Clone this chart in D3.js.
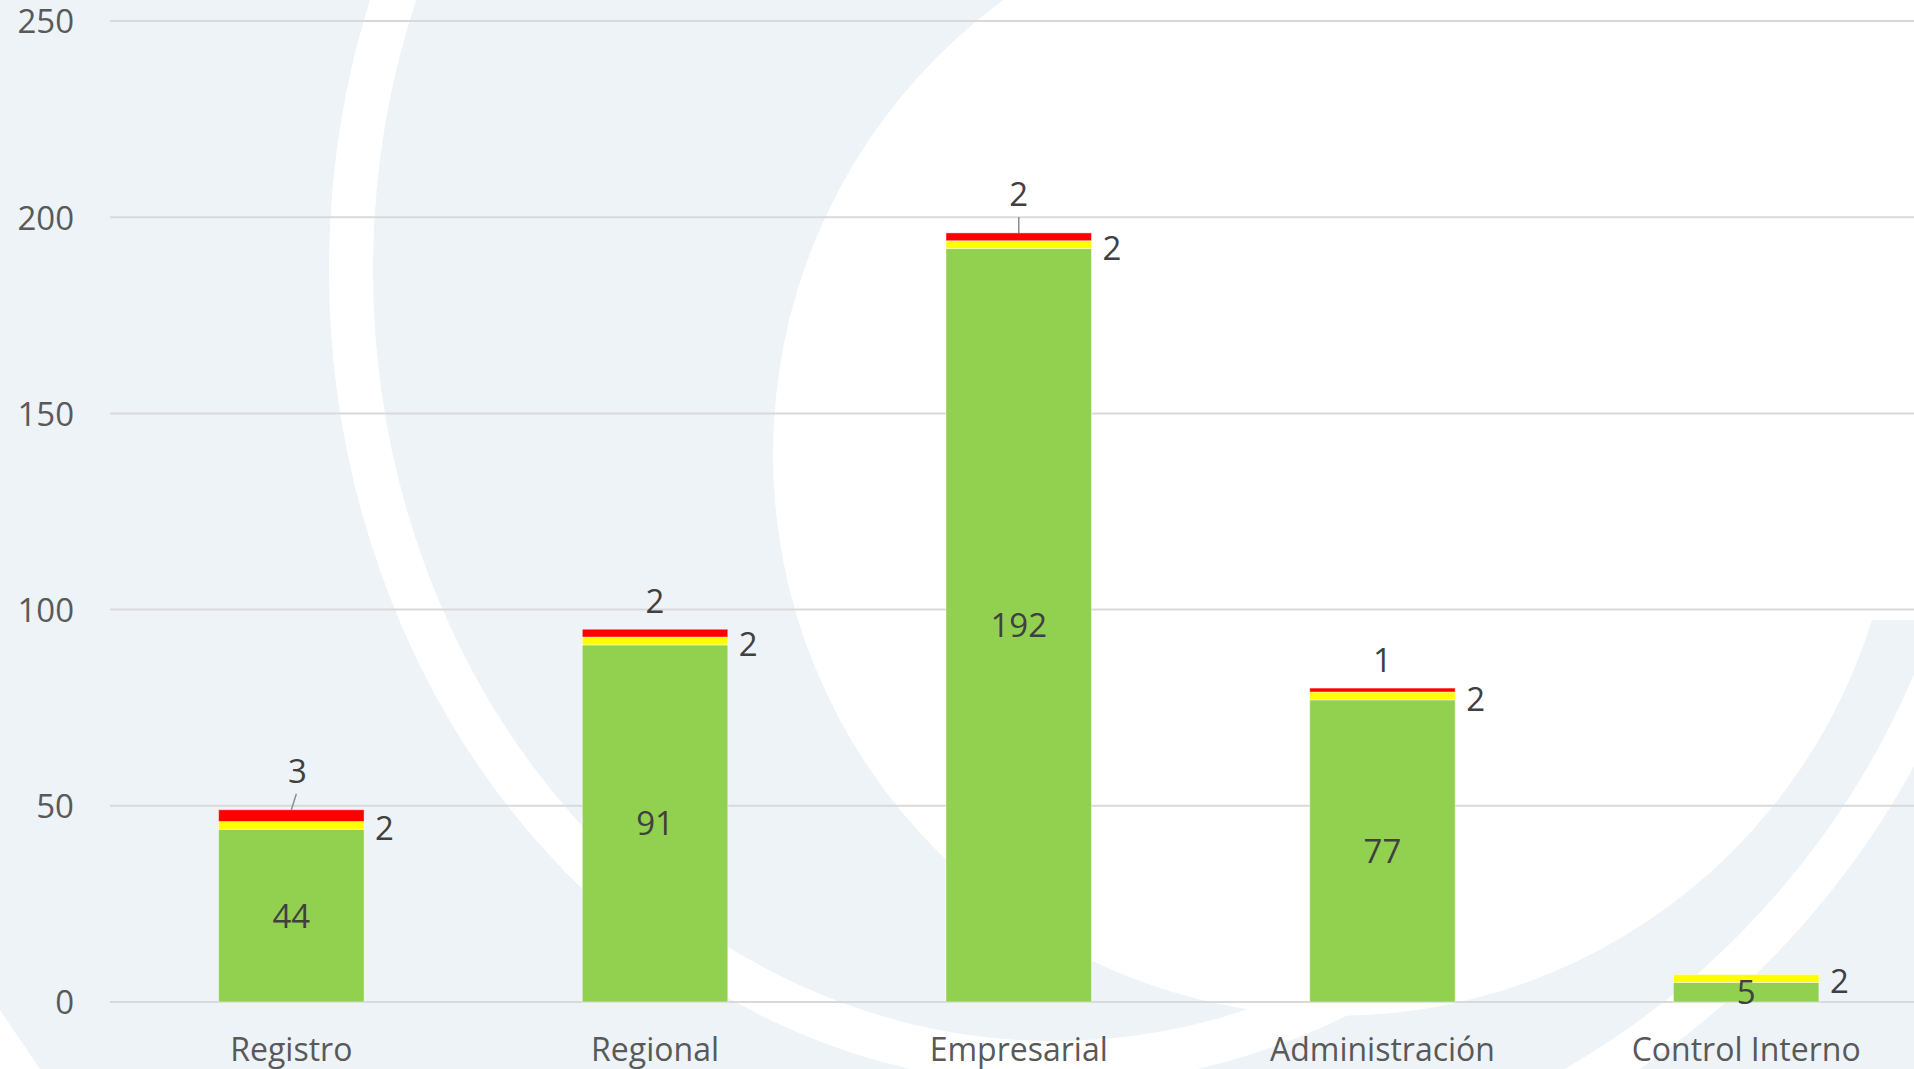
<!DOCTYPE html>
<html>
<head>
<meta charset="utf-8">
<script src="https://cdn.jsdelivr.net/npm/d3@7"></script>
<style>
  html, body { margin:0; padding:0; background:#EEF3F8; }
  svg text { font-family: "Open Sans", sans-serif; }
</style>
</head>
<body>
<div class="canvas"></div>
<script>
// chart data
const categories = ["Registro", "Regional", "Empresarial", "Administración", "Control Interno"]
const greenVals  = [44, 91, 192, 77, 5]
const yellowVals = [2, 2, 2, 2, 2]
const redVals    = [3, 2, 2, 1, 0]
const yTicks     = [0, 50, 100, 150, 200, 250]
// which top labels sit higher with a leader line
const redLeader  = [true, false, true, false, false]

const dim = { width:1914, height:1069 }
const plot = { left:109.5, right:1928, top:21, bottom:1002 }
const colors = { green:"#92D050", yellow:"#FFFF00", red:"#FF0000" }

const svg = d3.select(".canvas").append("svg")
  .attr("width", dim.width).attr("height", dim.height)
  .style("display","block")

// background decoration (logo arcs)
const bg = svg.append("g")
bg.append("rect").attr("width", dim.width).attr("height", dim.height).attr("fill", "#EEF3F8")
bg.append("ellipse")
  .attr("cx", 1054).attr("cy", 270).attr("rx", 703).attr("ry", 793)
  .attr("fill", "none").attr("stroke", "#fff").attr("stroke-width", 44)
bg.append("circle").attr("cx", 1335).attr("cy", 454).attr("r", 562).attr("fill", "#fff")
bg.append("rect").attr("x", 1335).attr("y", 0).attr("width", 600).attr("height", 620).attr("fill", "#fff")
bg.append("path")
  .attr("transform", "translate(1150,350)")
  .attr("d", d3.arc().innerRadius(830).outerRadius(870).startAngle(Math.PI * 0.55).endAngle(Math.PI * 0.9)())
  .attr("fill", "#fff")
bg.append("path").attr("d", "M0,1010 L40,1069 L0,1069 Z").attr("fill", "#fff")

const x = d3.scaleBand()
  .domain(categories)
  .range([plot.left, plot.right])
  .paddingInner(0.6)
  .paddingOuter(0.3)

const y = d3.scaleLinear()
  .domain([0, 250])
  .range([plot.bottom, plot.top])

// gridlines
svg.append("g").selectAll("line")
  .data(yTicks)
  .enter().append("line")
  .attr("x1", 110).attr("x2", dim.width)
  .attr("y1", d => y(d)).attr("y2", d => y(d))
  .attr("stroke", "#D9D9D9").attr("stroke-width", 2)

// y axis labels
const yAxis = svg.append("g")
  .attr("transform", `translate(110,0)`)
  .call(d3.axisLeft(y).tickValues(yTicks).tickSize(0).tickPadding(36))
yAxis.select(".domain").remove()
yAxis.selectAll("text")
  .attr("dy", "0.36em")
  .style("font-size", "33px")
  .style("font-family", "'Open Sans', sans-serif")
  .attr("fill", "#595959")

// stacked bars
const rows = categories.map((c, i) => ({ cat:c, green:greenVals[i], yellow:yellowVals[i], red:redVals[i] }))
const keys = ["green", "yellow", "red"]
const stack = d3.stack().keys(keys)(rows)

const layers = svg.append("g").selectAll("g")
  .data(stack)
  .enter().append("g")
  .attr("fill", d => colors[d.key])

layers.selectAll("rect")
  .data(d => d.filter(s => s[1] > s[0]))
  .enter().append("rect")
  .attr("x", d => x(d.data.cat))
  .attr("width", x.bandwidth())
  .attr("y", d => y(d[1]))
  .attr("height", d => y(d[0]) - y(d[1]))
  .attr("stroke", "rgba(255,255,255,0.45)")
  .attr("stroke-width", 1)

const labels = svg.append("g")
  .style("font-size", "33px")
  .attr("fill", "#404040")

// green labels centred in segment
labels.selectAll(".lg")
  .data(stack[0])
  .enter().append("text")
  .attr("class", "lg")
  .attr("x", d => x(d.data.cat) + x.bandwidth() / 2)
  .attr("y", d => y((d[0] + d[1]) / 2))
  .attr("dy", "0.36em")
  .attr("text-anchor", "middle")
  .text(d => d.data.green)

// yellow labels to the right of bar
labels.selectAll(".ly")
  .data(stack[1])
  .enter().append("text")
  .attr("class", "ly")
  .attr("x", d => x(d.data.cat) + x.bandwidth() + 11)
  .attr("y", d => y((d[0] + d[1]) / 2) + 3)
  .attr("dy", "0.36em")
  .attr("text-anchor", "start")
  .text(d => d.data.yellow)

// red labels above bar
const redData = stack[2].map((d, i) => ({ d, i })).filter(o => o.d.data.red > 0)
const lift = o => redLeader[o.i] ? 39 : 28

svg.append("g").selectAll("line")
  .data(redData.filter(o => redLeader[o.i]))
  .enter().append("line")
  .attr("x1", o => x(o.d.data.cat) + x.bandwidth() / 2)
  .attr("x2", o => x(o.d.data.cat) + x.bandwidth() / 2 + (o.i === 0 ? 5 : 0))
  .attr("y1", o => y(o.d[1]))
  .attr("y2", o => y(o.d[1]) - 16)
  .attr("stroke", "#8c8c8c").attr("stroke-width", 1.5)

labels.selectAll(".lr")
  .data(redData)
  .enter().append("text")
  .attr("class", "lr")
  .attr("x", o => x(o.d.data.cat) + x.bandwidth() / 2 + (o.i === 0 ? 6 : 0))
  .attr("y", o => y(o.d[1]) - lift(o))
  .attr("dy", "0.36em")
  .attr("text-anchor", "middle")
  .text(o => o.d.data.red)

// category labels
svg.append("g").selectAll("text")
  .data(categories)
  .enter().append("text")
  .attr("x", d => x(d) + x.bandwidth() / 2)
  .attr("y", 1061)
  .attr("text-anchor", "middle")
  .style("font-size", "32px")
  .attr("fill", "#595959")
  .text(d => d)
</script>
</body>
</html>
